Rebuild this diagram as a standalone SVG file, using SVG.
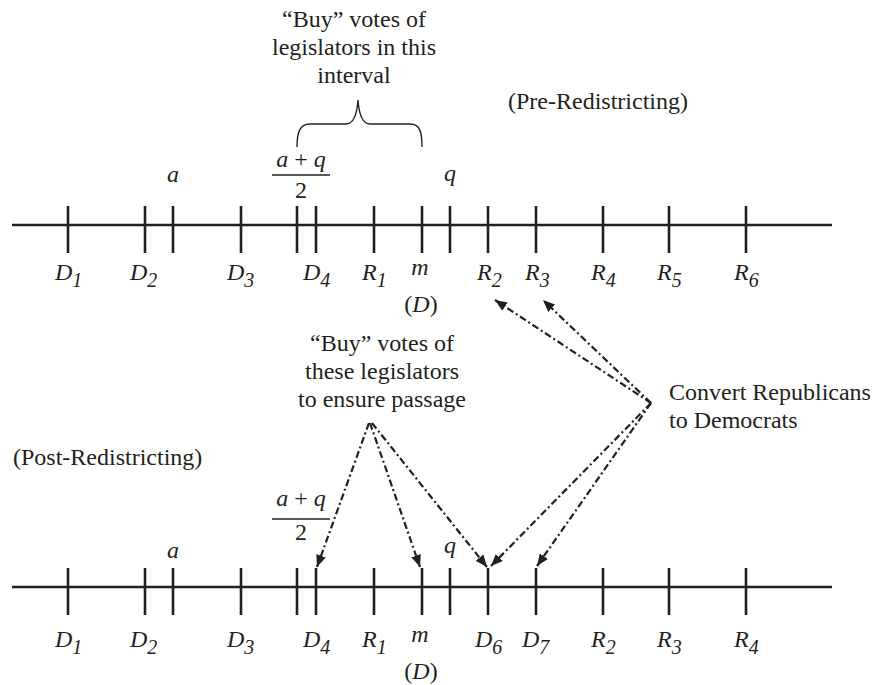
<svg xmlns="http://www.w3.org/2000/svg" width="875" height="685" viewBox="0 0 875 685">
<style>
text{font-family:"Liberation Serif","Times New Roman",serif;font-size:24px;fill:#231f20}
.i{font-style:italic}
.s{font-size:20px;font-style:italic}
.axis{stroke:#231f20;stroke-width:2.6;fill:none}
.tick{stroke:#231f20;stroke-width:2.6}
.bar{stroke:#231f20;stroke-width:1.3}
.brace{stroke:#231f20;stroke-width:1.4;fill:none}
.conn{stroke:#231f20;stroke-width:2.2;fill:none;stroke-dasharray:7 3 2 3}
</style>
<defs>
<marker id="ah" viewBox="0 0 12 10" refX="12" refY="5" markerWidth="12" markerHeight="10" markerUnits="userSpaceOnUse" orient="auto">
<path d="M0,0 L12,5 L0,10 z" fill="#231f20"/>
</marker>
<g id="ticks">
<line class="tick" x1="68" y1="0" x2="68" y2="47"/>
<line class="tick" x1="145" y1="0" x2="145" y2="47"/>
<line class="tick" x1="173" y1="0" x2="173" y2="47"/>
<line class="tick" x1="241" y1="0" x2="241" y2="47"/>
<line class="tick" x1="297" y1="0" x2="297" y2="47"/>
<line class="tick" x1="316" y1="0" x2="316" y2="47"/>
<line class="tick" x1="374" y1="0" x2="374" y2="47"/>
<line class="tick" x1="422" y1="0" x2="422" y2="47"/>
<line class="tick" x1="450" y1="0" x2="450" y2="47"/>
<line class="tick" x1="488" y1="0" x2="488" y2="47"/>
<line class="tick" x1="536" y1="0" x2="536" y2="47"/>
<line class="tick" x1="603" y1="0" x2="603" y2="47"/>
<line class="tick" x1="669" y1="0" x2="669" y2="47"/>
<line class="tick" x1="746" y1="0" x2="746" y2="47"/>
</g>
</defs>

<g id="top-note">
<text x="354" y="27" text-anchor="middle">“Buy” votes of</text>
<text x="354" y="55" text-anchor="middle">legislators in this</text>
<text x="354" y="83" text-anchor="middle">interval</text>
<path class="brace" d="M297,147 C297,132 300,124 310,124 L346,124 C354,124 357,114 358,100 C359,114 362,124 370,124 L410,124 C420,124 422,132 422,147"/>
</g>

<g id="label-pre"><text x="508" y="109">(Pre-Redistricting)</text></g>

<g id="top-axis">
<line class="axis" x1="12" y1="225" x2="832" y2="225"/>
<use href="#ticks" y="206"/>
<text class="i" x="173" y="182" text-anchor="middle">a</text>
<text x="301" y="167" text-anchor="middle"><tspan class="i">a</tspan> + <tspan class="i">q</tspan></text>
<line class="bar" x1="272" y1="175" x2="330" y2="175"/>
<text x="301" y="198" text-anchor="middle">2</text>
<text class="i" x="450" y="181" text-anchor="middle">q</text>
<text x="55" y="280"><tspan class="i">D</tspan><tspan class="s" dy="7">1</tspan></text>
<text x="130" y="280"><tspan class="i">D</tspan><tspan class="s" dy="7">2</tspan></text>
<text x="227" y="280"><tspan class="i">D</tspan><tspan class="s" dy="7">3</tspan></text>
<text x="303" y="280"><tspan class="i">D</tspan><tspan class="s" dy="7">4</tspan></text>
<text x="362" y="280"><tspan class="i">R</tspan><tspan class="s" dy="7">1</tspan></text>
<text class="i" x="420" y="275" text-anchor="middle">m</text>
<text x="421" y="312" text-anchor="middle">(<tspan class="i">D</tspan>)</text>
<text x="477" y="280"><tspan class="i">R</tspan><tspan class="s" dy="7">2</tspan></text>
<text x="525" y="280"><tspan class="i">R</tspan><tspan class="s" dy="7">3</tspan></text>
<text x="591" y="280"><tspan class="i">R</tspan><tspan class="s" dy="7">4</tspan></text>
<text x="657" y="280"><tspan class="i">R</tspan><tspan class="s" dy="7">5</tspan></text>
<text x="734" y="280"><tspan class="i">R</tspan><tspan class="s" dy="7">6</tspan></text>
</g>

<g id="bottom-note">
<text x="382" y="351" text-anchor="middle">“Buy” votes of</text>
<text x="382" y="379" text-anchor="middle">these legislators</text>
<text x="382" y="407" text-anchor="middle">to ensure passage</text>
</g>

<g id="convert-note">
<text x="669" y="400">Convert Republicans</text>
<text x="669" y="428">to Democrats</text>
</g>

<g id="label-post"><text x="13" y="465">(Post-Redistricting)</text></g>

<g id="bottom-axis">
<line class="axis" x1="12" y1="587" x2="832" y2="587"/>
<use href="#ticks" y="568"/>
<text class="i" x="173" y="558" text-anchor="middle">a</text>
<text x="301" y="506" text-anchor="middle"><tspan class="i">a</tspan> + <tspan class="i">q</tspan></text>
<line class="bar" x1="272" y1="519" x2="330" y2="519"/>
<text x="301" y="540" text-anchor="middle">2</text>
<text class="i" x="450" y="553" text-anchor="middle">q</text>
<text x="55" y="647"><tspan class="i">D</tspan><tspan class="s" dy="7">1</tspan></text>
<text x="130" y="647"><tspan class="i">D</tspan><tspan class="s" dy="7">2</tspan></text>
<text x="227" y="647"><tspan class="i">D</tspan><tspan class="s" dy="7">3</tspan></text>
<text x="303" y="647"><tspan class="i">D</tspan><tspan class="s" dy="7">4</tspan></text>
<text x="362" y="647"><tspan class="i">R</tspan><tspan class="s" dy="7">1</tspan></text>
<text class="i" x="420" y="642" text-anchor="middle">m</text>
<text x="421" y="679" text-anchor="middle">(<tspan class="i">D</tspan>)</text>
<text x="475" y="647"><tspan class="i">D</tspan><tspan class="s" dy="7">6</tspan></text>
<text x="522" y="647"><tspan class="i">D</tspan><tspan class="s" dy="7">7</tspan></text>
<text x="591" y="647"><tspan class="i">R</tspan><tspan class="s" dy="7">2</tspan></text>
<text x="657" y="647"><tspan class="i">R</tspan><tspan class="s" dy="7">3</tspan></text>
<text x="734" y="647"><tspan class="i">R</tspan><tspan class="s" dy="7">4</tspan></text>
</g>

<g id="connectors">
<line class="conn" x1="651" y1="403" x2="495" y2="300" marker-end="url(#ah)"/>
<line class="conn" x1="651" y1="403" x2="543" y2="300" marker-end="url(#ah)"/>
<line class="conn" x1="651" y1="403" x2="491" y2="566" marker-end="url(#ah)"/>
<line class="conn" x1="651" y1="403" x2="537" y2="566" marker-end="url(#ah)"/>
<line class="conn" x1="369" y1="423" x2="317" y2="567" marker-end="url(#ah)"/>
<line class="conn" x1="370" y1="423" x2="420" y2="567" marker-end="url(#ah)"/>
<line class="conn" x1="372" y1="423" x2="487" y2="567" marker-end="url(#ah)"/>
</g>
</svg>
